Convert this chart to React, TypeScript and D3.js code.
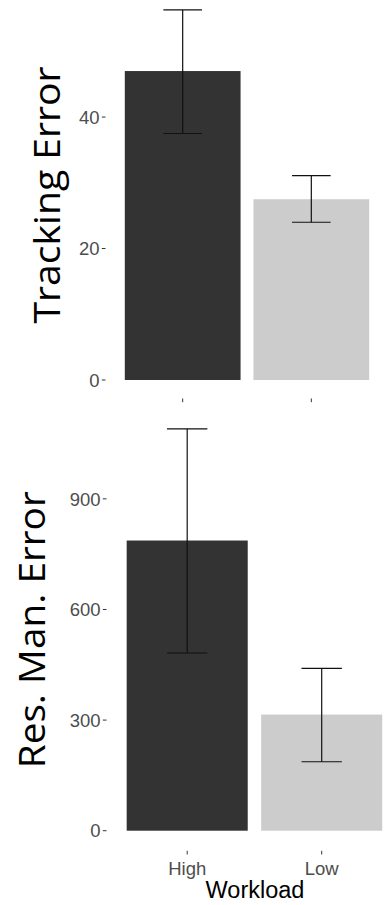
import * as d3 from 'd3';
import React from 'react';

const workload = ['High', 'Low'];

const trackingMean = [47.0, 27.5];
const trackingLower = [37.5, 24.0];
const trackingUpper = [56.3, 31.1];
const trackingTicks = [0, 20, 40];

const resManMean = [787, 315];
const resManLower = [482, 187];
const resManUpper = [1090, 440];
const resManTicks = [0, 300, 600, 900];

const barColors = ['#333333', '#cccccc'];
const tickFont = '"Liberation Sans", Arial, sans-serif';
const titleFont = '"Open Sans", "Noto Sans", sans-serif';

type PanelProps = {
  mean: number[];
  lower: number[];
  upper: number[];
  ticks: number[];
  title: string;
  titleX: number;
  titleLength: number;
  xRange: [number, number];
  yRange: [number, number];
  showLabels: boolean;
};

const Panel = ({ mean, lower, upper, ticks, title, titleX, titleLength, xRange, yRange, showLabels }: PanelProps) => {
  const x = d3.scaleBand<string>()
    .domain(workload)
    .range(xRange)
    .paddingInner(0.1)
    .paddingOuter(0.15);

  // ggplot style 5% expansion around 0..max
  const top = d3.max(upper) as number;
  const y = d3.scaleLinear()
    .domain([-0.05 * top, 1.05 * top])
    .range(yRange);

  const step = x.step();
  const bottom = yRange[0];
  const left = xRange[0];
  const midY = (yRange[0] + yRange[1]) / 2;

  return (
    <g>
      {workload.map((w, i) => (
        <rect key={w}
          x={x(w)}
          y={y(mean[i])}
          width={x.bandwidth()}
          height={y(0) - y(mean[i])}
          fill={barColors[i]} />
      ))}
      {workload.map((w, i) => {
        const cx = (x(w) as number) + x.bandwidth() / 2;
        const hw = step * 0.15;
        return (
          <g key={w} stroke="#111111" strokeWidth={1.2}>
            <line x1={cx} x2={cx} y1={y(lower[i])} y2={y(upper[i])} />
            <line x1={cx - hw} x2={cx + hw} y1={y(upper[i])} y2={y(upper[i])} />
            <line x1={cx - hw} x2={cx + hw} y1={y(lower[i])} y2={y(lower[i])} />
          </g>
        );
      })}
      {/* y axis */}
      {ticks.map(t => (
        <g key={t}>
          <line x1={left - 3.7} x2={left} y1={y(t)} y2={y(t)} stroke="#333333" strokeWidth={1} />
          <text x={left - 6} y={y(t)} dy="0.36em" textAnchor="end"
            fontFamily={tickFont} fontSize={18.5} fill="#4d4d4d">{t}</text>
        </g>
      ))}
      {/* x axis */}
      {workload.map(w => {
        const cx = (x(w) as number) + x.bandwidth() / 2;
        return (
          <g key={w}>
            <line x1={cx} x2={cx} y1={bottom} y2={bottom + 3.7} stroke="#333333" strokeWidth={1} />
            {showLabels && (
              <text x={cx} y={bottom + 24} textAnchor="middle"
                fontFamily={tickFont} fontSize={18.5} fill="#4d4d4d">{w}</text>
            )}
          </g>
        );
      })}
      <text transform={`translate(${titleX},${midY}) rotate(-90)`} textAnchor="middle"
        fontFamily={titleFont} fontSize={37} fill="#000"
        textLength={titleLength} lengthAdjust="spacingAndGlyphs">{title}</text>
    </g>
  );
};

const App = () => {
  return (
    <svg width={385} height={905} style={{ position: 'absolute', left: 0, top: 0, background: '#fff' }}>
      <Panel mean={trackingMean} lower={trackingLower} upper={trackingUpper} ticks={trackingTicks}
        title="Tracking Error" titleX={60} titleLength={257}
        xRange={[105.5, 388.5]} yRange={[398.5, -8.6]} showLabels={false} />
      <Panel mean={resManMean} lower={resManLower} upper={resManUpper} ticks={resManTicks}
        title="Res. Man. Error" titleX={45} titleLength={277}
        xRange={[106.5, 402.4]} yRange={[850.8, 408.7]} showLabels={true} />
      <text x={255} y={897.5} textAnchor="middle" fontFamily={tickFont} fontSize={23.5} fill="#000">Workload</text>
    </svg>
  );
};

export default App;
